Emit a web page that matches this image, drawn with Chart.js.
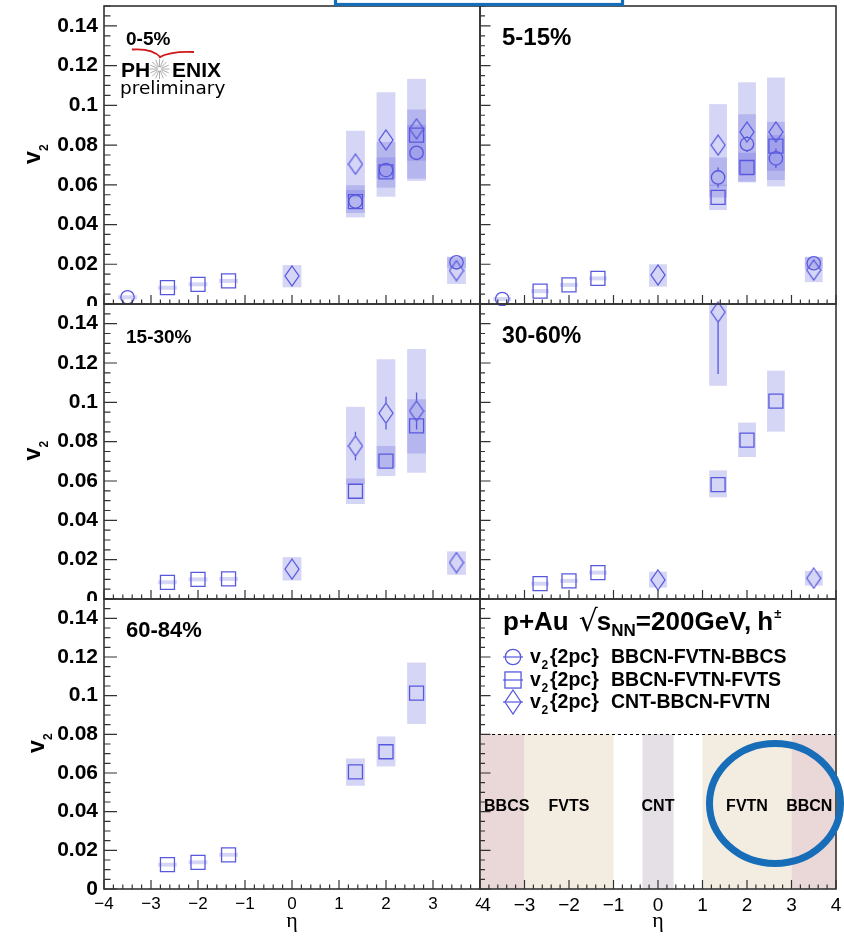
<!DOCTYPE html>
<html><head><meta charset="utf-8">
<script src="https://cdn.jsdelivr.net/npm/chart.js@4.4.1/dist/chart.umd.min.js"></script>
<style>
html,body{margin:0;padding:0;background:#fff;}
body{width:844px;height:936px;position:relative;overflow:hidden;}
canvas{position:absolute;}
</style></head><body>
<canvas id="c0"></canvas><canvas id="c1"></canvas>
<canvas id="c2"></canvas><canvas id="c3"></canvas>
<canvas id="c4"></canvas><canvas id="c5"></canvas>
<canvas id="ov" style="z-index:5;pointer-events:none"></canvas>
<script>
// ---------------- DATA ----------------
const centralityLabels = ['0-5%', '5-15%', '15-30%', '30-60%', '60-84%'];
const seriesNames = ['BBCN-FVTN-BBCS', 'BBCN-FVTN-FVTS', 'CNT-BBCN-FVTN'];

const etaCircle  = [-3.5, 1.35, 2.0, 2.65, 3.5];
const etaSquare  = [-2.65, -2.0, -1.35, 1.35, 2.0, 2.65];
const etaDiamond = [0, 1.35, 2.0, 2.65, 3.5];
const etaDiamond_30_60 = [0, 1.35, 3.5];

// 0-5%
const v2Circle_0_5    = [0.0034, 0.0516, 0.0674, 0.0761, 0.0210];
const statCircle_0_5  = [0.0005, 0.0015, 0.0020, 0.0025, 0.0010];
const sysLoCircle_0_5 = [0.0024, 0.0436, 0.0540, 0.0620, 0.0180];
const sysHiCircle_0_5 = [0.0044, 0.0598, 0.0816, 0.0902, 0.0238];
const v2Square_0_5    = [0.0082, 0.0099, 0.0116, 0.0515, 0.0665, 0.0850];
const statSquare_0_5  = [0.0005, 0.0005, 0.0005, 0.0015, 0.0020, 0.0025];
const sysLoSquare_0_5 = [0.0072, 0.0089, 0.0106, 0.0458, 0.0632, 0.0721];
const sysHiSquare_0_5 = [0.0092, 0.0109, 0.0126, 0.0573, 0.0738, 0.0979];
const v2Diamond_0_5    = [0.0141, 0.0704, 0.0826, 0.0882, 0.0168];
const statDiamond_0_5  = [0.0010, 0.0020, 0.0025, 0.0030, 0.0010];
const sysLoDiamond_0_5 = [0.0084, 0.0536, 0.0586, 0.0631, 0.0101];
const sysHiDiamond_0_5 = [0.0196, 0.0872, 0.1066, 0.1133, 0.0235];

// 5-15%
const v2Circle_5_15    = [0.0025, 0.0637, 0.0805, 0.0733, 0.0205];
const statCircle_5_15  = [0.0005, 0.0050, 0.0040, 0.0050, 0.0010];
const sysLoCircle_5_15 = [0.0015, 0.0536, 0.0655, 0.0624, 0.0178];
const sysHiCircle_5_15 = [0.0035, 0.0738, 0.0955, 0.0850, 0.0238];
const v2Square_5_15    = [0.0065, 0.0096, 0.0129, 0.0537, 0.0687, 0.0795];
const statSquare_5_15  = [0.0005, 0.0005, 0.0005, 0.0015, 0.0020, 0.0025];
const sysLoSquare_5_15 = [0.0055, 0.0086, 0.0119, 0.0473, 0.0612, 0.0670];
const sysHiSquare_5_15 = [0.0075, 0.0106, 0.0139, 0.0601, 0.0761, 0.0917];
const v2Diamond_5_15    = [0.0146, 0.0800, 0.0866, 0.0866, 0.0171];
const statDiamond_5_15  = [0.0010, 0.0020, 0.0030, 0.0030, 0.0010];
const sysLoDiamond_5_15 = [0.0087, 0.0594, 0.0616, 0.0592, 0.0110];
const sysHiDiamond_5_15 = [0.0200, 0.1006, 0.1116, 0.1140, 0.0235];

// 15-30%
const v2Square_15_30    = [0.0085, 0.0100, 0.0102, 0.0548, 0.0701, 0.0880];
const statSquare_15_30  = [0.0005, 0.0005, 0.0005, 0.0020, 0.0020, 0.0030];
const sysLoSquare_15_30 = [0.0075, 0.0090, 0.0092, 0.0483, 0.0625, 0.0740];
const sysHiSquare_15_30 = [0.0095, 0.0110, 0.0112, 0.0613, 0.0778, 0.1016];
const v2Diamond_15_30    = [0.0152, 0.0778, 0.0945, 0.0956, 0.0185];
const statDiamond_15_30  = [0.0010, 0.0072, 0.0083, 0.0094, 0.0010];
const sysLoDiamond_15_30 = [0.0094, 0.0582, 0.0667, 0.0642, 0.0123];
const sysHiDiamond_15_30 = [0.0213, 0.0977, 0.1219, 0.1271, 0.0242];

// 30-60%
const v2Square_30_60    = [0.0078, 0.0092, 0.0134, 0.0582, 0.0808, 0.1006];
const statSquare_30_60  = [0.0005, 0.0005, 0.0005, 0.0020, 0.0025, 0.0030];
const sysLoSquare_30_60 = [0.0068, 0.0082, 0.0124, 0.0517, 0.0722, 0.0851];
const sysHiSquare_30_60 = [0.0088, 0.0102, 0.0144, 0.0654, 0.0897, 0.1161];
const v2Diamond_30_60    = [0.0097, 0.1459, 0.0106];
const statDiamond_30_60  = [0.0010, 0.0315, 0.0010];
const sysLoDiamond_30_60 = [0.0058, 0.1084, 0.0068];
const sysHiDiamond_30_60 = [0.0139, 0.1834, 0.0143];

// 60-84%
const v2Square_60_84    = [0.0126, 0.0138, 0.0177, 0.0606, 0.0710, 0.1013];
const statSquare_60_84  = [0.0005, 0.0005, 0.0005, 0.0020, 0.0025, 0.0030];
const sysLoSquare_60_84 = [0.0116, 0.0128, 0.0167, 0.0534, 0.0634, 0.0854];
const sysHiSquare_60_84 = [0.0136, 0.0148, 0.0187, 0.0675, 0.0789, 0.1171];

// detector acceptance panel
const detectorNames    = ['BBCS', 'FVTS', 'CNT', 'FVTN', 'BBCN'];
const detectorEtaMin   = [-4, -3, -0.35, 1, 3];
const detectorEtaMax   = [-3, -1, 0.35, 3, 4];
const detectorLabelEta = [-3.4, -2, 0, 2, 3.4];
const detectorTop = 0.08;
const detectorLabelV = 0.0425;

const yTickValues = [0, 0.02, 0.04, 0.06, 0.08, 0.1, 0.12, 0.14];
const xTickValues = [-4, -3, -2, -1, 0, 1, 2, 3, 4];

// ---------------- STYLE ----------------
const FONT = "'Liberation Sans', Arial, Helvetica, sans-serif";
const MARKER = 'rgb(88,88,222)';
const BOX = 'rgba(100,100,222,0.27)';
const FRAME = '#333';
const detectorColors = ['#ead7d8', '#f3ede1', '#e5dfe6', '#f3ede1', '#ead7d8'];

function makeDiamond(w, h, lw) {
  const c = document.createElement('canvas');
  c.width = w; c.height = h;
  const g = c.getContext('2d');
  g.strokeStyle = MARKER; g.lineWidth = lw;
  g.beginPath();
  g.moveTo(w / 2, 1); g.lineTo(w - 1, h / 2); g.lineTo(w / 2, h - 1); g.lineTo(1, h / 2); g.closePath();
  g.stroke();
  return c;
}
const diamondImg = makeDiamond(16, 22, 1.3);
const diamondLegImg = makeDiamond(18, 26, 1.3);
const HALF = {circle: 6.7, square: 7, diamond: 10.5};

function S(shape, eta, v2, stat, lo, hi) { return {shape, eta, v2, stat, lo, hi}; }

const panels = [
  {label: centralityLabels[0], font: 19, series: [
    S('circle', etaCircle, v2Circle_0_5, statCircle_0_5, sysLoCircle_0_5, sysHiCircle_0_5),
    S('square', etaSquare, v2Square_0_5, statSquare_0_5, sysLoSquare_0_5, sysHiSquare_0_5),
    S('diamond', etaDiamond, v2Diamond_0_5, statDiamond_0_5, sysLoDiamond_0_5, sysHiDiamond_0_5)]},
  {label: centralityLabels[1], font: 24, series: [
    S('circle', etaCircle, v2Circle_5_15, statCircle_5_15, sysLoCircle_5_15, sysHiCircle_5_15),
    S('square', etaSquare, v2Square_5_15, statSquare_5_15, sysLoSquare_5_15, sysHiSquare_5_15),
    S('diamond', etaDiamond, v2Diamond_5_15, statDiamond_5_15, sysLoDiamond_5_15, sysHiDiamond_5_15)]},
  {label: centralityLabels[2], font: 19, series: [
    S('square', etaSquare, v2Square_15_30, statSquare_15_30, sysLoSquare_15_30, sysHiSquare_15_30),
    S('diamond', etaDiamond, v2Diamond_15_30, statDiamond_15_30, sysLoDiamond_15_30, sysHiDiamond_15_30)]},
  {label: centralityLabels[3], font: 23, series: [
    S('square', etaSquare, v2Square_30_60, statSquare_30_60, sysLoSquare_30_60, sysHiSquare_30_60),
    S('diamond', etaDiamond_30_60, v2Diamond_30_60, statDiamond_30_60, sysLoDiamond_30_60, sysHiDiamond_30_60)]},
  {label: centralityLabels[4], font: 22, series: [
    S('square', etaSquare, v2Square_60_84, statSquare_60_84, sysLoSquare_60_84, sysHiSquare_60_84)]},
  {label: null, legend: true, series: []}
];

// ---------------- GEOMETRY ----------------
const COLS = [
  {left: 0, width: 481, yW: 104, padR: 1, leftCol: true, yMaj: 13, yMin: 6.5, xFont: 17},
  {left: 479, width: 365, yW: 1, padR: 8, leftCol: false, yMaj: 10.5, yMin: 5, xFont: 19}
];
const ROWS = [
  {top: 0, height: 306, xH: 2, bottom: false, vx: 40},
  {top: 298, height: 303, xH: 2, bottom: false, vx: 40},
  {top: 593, height: 343, xH: 47, bottom: true, vx: 44}
];

function fmtV(v) { return String(+v.toFixed(3)); }
function fmtEta(v) { return v < 0 ? '\u2212' + Math.abs(v) : String(v); }

function drawMarker(ctx, shape, x, y, scale) {
  ctx.save();
  ctx.strokeStyle = MARKER; ctx.lineWidth = 1.3;
  if (shape === 'circle') {
    ctx.beginPath(); ctx.arc(x, y, 6.7 * scale, 0, Math.PI * 2); ctx.stroke();
  } else if (shape === 'square') {
    const h = 7 * scale; ctx.strokeRect(x - h, y - h, 2 * h, 2 * h);
  } else {
    const img = scale > 1 ? diamondLegImg : diamondImg;
    ctx.drawImage(img, x - img.width / 2, y - img.height / 2);
  }
  ctx.restore();
}

function drawLegendPanel(chart) {
  const {ctx} = chart;
  const ox = chart.canvas.offsetLeft, oy = chart.canvas.offsetTop;
  const X = x => x - ox, Y = y => y - oy;
  ctx.save();
  ctx.fillStyle = '#000';
  ctx.textBaseline = 'alphabetic';
  ctx.textAlign = 'left';
  // title: p+Au sqrt(s_NN)=200GeV, h±
  const ty = Y(630);
  let x = X(503);
  const put = (txt, font, dy, gapAfter) => {
    ctx.font = font; ctx.fillText(txt, x, ty + dy);
    x += ctx.measureText(txt).width + (gapAfter || 0);
  };
  put('p+Au', `bold 26px ${FONT}`, 0, 10);
  put('\u221A', `30px 'DejaVu Sans', ${FONT}`, 1, -1);
  put('s', `bold 26px ${FONT}`, 0, 0);
  put('NN', `bold 17px ${FONT}`, 6, 0);
  put('=200GeV,', `bold 26px ${FONT}`, 0, 6);
  put('h', `bold 26px ${FONT}`, 0, 1);
  put('\u00B1', `bold 13px ${FONT}`, -12, 0);
  // legend entries
  const shapes = ['circle', 'square', 'diamond'];
  const rowsY = [657, 680, 702];
  for (let i = 0; i < 3; i++) {
    const lx = X(503), ly = Y(rowsY[i]);
    ctx.strokeStyle = MARKER; ctx.lineWidth = 1.2;
    ctx.beginPath(); ctx.moveTo(lx, ly); ctx.lineTo(lx + 20, ly); ctx.stroke();
    drawMarker(ctx, shapes[i], lx + 10, ly, 1.15);
    ctx.fillStyle = '#000';
    ctx.font = `bold 19.5px ${FONT}`;
    ctx.fillText('v', X(530), ly + 6);
    ctx.font = `bold 12px ${FONT}`;
    ctx.fillText('2', X(541.5), ly + 12);
    ctx.font = `bold 19.5px ${FONT}`;
    ctx.fillText('{2pc}', X(550), ly + 6);
    ctx.fillText(seriesNames[i], X(611), ly + 6);
  }
  ctx.restore();
}

function drawBands(chart) {
  const {ctx} = chart;
  const xs = chart.scales.x, ys = chart.scales.y;
  ctx.save();
  for (let i = 0; i < detectorNames.length; i++) {
    const x0 = xs.getPixelForValue(detectorEtaMin[i]);
    const x1 = xs.getPixelForValue(detectorEtaMax[i]);
    const y0 = ys.getPixelForValue(detectorTop);
    const y1 = ys.getPixelForValue(0);
    ctx.fillStyle = detectorColors[i];
    ctx.fillRect(x0, y0, x1 - x0, y1 - y0);
  }
  ctx.strokeStyle = '#000'; ctx.lineWidth = 1; ctx.setLineDash([3, 3]);
  const yd = Math.round(ys.getPixelForValue(detectorTop)) + 0.5;
  ctx.beginPath(); ctx.moveTo(xs.left, yd); ctx.lineTo(xs.right, yd); ctx.stroke();
  ctx.setLineDash([]);
  ctx.fillStyle = '#000';
  ctx.font = `bold 16px ${FONT}`;
  ctx.textAlign = 'center'; ctx.textBaseline = 'middle';
  for (let i = 0; i < detectorNames.length; i++) {
    ctx.fillText(detectorNames[i], xs.getPixelForValue(detectorLabelEta[i]), ys.getPixelForValue(detectorLabelV));
  }
  ctx.restore();
}

function drawLogo(ctx) {
  ctx.save();
  ctx.strokeStyle = '#d01818'; ctx.lineWidth = 1.8;
  ctx.beginPath(); ctx.moveTo(132, 49.5); ctx.quadraticCurveTo(152, 48, 161, 57.5); ctx.stroke();
  ctx.beginPath(); ctx.moveTo(159, 57.5); ctx.quadraticCurveTo(170, 51, 194, 52); ctx.stroke();
  ctx.fillStyle = '#000';
  ctx.font = `bold 21px ${FONT}`;
  ctx.textBaseline = 'alphabetic';
  ctx.fillText('PH', 121, 77);
  ctx.fillText('ENIX', 172, 77);
  ctx.strokeStyle = '#999'; ctx.lineWidth = 0.8;
  for (let k = 0; k < 16; k++) {
    const a = k * Math.PI / 8;
    ctx.beginPath();
    ctx.moveTo(159.5 + 2 * Math.cos(a), 69 + 2 * Math.sin(a));
    ctx.lineTo(159.5 + 10 * Math.cos(a), 69 + 10 * Math.sin(a));
    ctx.stroke();
  }
  ctx.font = `18.5px 'DejaVu Sans', ${FONT}`;
  ctx.fillText('preliminary', 120, 94);
  ctx.restore();
}

function buildPanel(idx) {
  const col = COLS[idx % 2], row = ROWS[Math.floor(idx / 2)];
  const panel = panels[idx];
  const cv = document.getElementById('c' + idx);
  cv.width = col.width; cv.height = row.height;
  cv.style.left = col.left + 'px'; cv.style.top = row.top + 'px';

  const datasets = panel.series.map(s => ({
    data: s.eta.map((x, i) => ({x: x, y: s.v2[i]})),
    pointStyle: s.shape === 'circle' ? 'circle' : (s.shape === 'square' ? 'rect' : diamondImg),
    pointRadius: s.shape === 'circle' ? 6.7 : (s.shape === 'square' ? 9.9 : 10),
    pointBorderColor: MARKER, pointBackgroundColor: 'rgba(0,0,0,0)', pointBorderWidth: 1.3,
    showLine: false, clip: false
  }));

  const rootPlugin = {
    id: 'rootStyle' + idx,
    beforeDatasetsDraw(chart) {
      const {ctx, chartArea: a} = chart;
      const xs = chart.scales.x, ys = chart.scales.y;
      if (panel.legend) { drawBands(chart); return; }
      ctx.save();
      ctx.beginPath(); ctx.rect(a.left, a.top, a.right - a.left, a.bottom - a.top); ctx.clip();
      ctx.fillStyle = BOX;
      panel.series.forEach(s => {
        s.eta.forEach((e, i) => {
          const x0 = xs.getPixelForValue(e - 0.2), x1 = xs.getPixelForValue(e + 0.2);
          const y0 = ys.getPixelForValue(s.hi[i]), y1 = ys.getPixelForValue(s.lo[i]);
          ctx.fillRect(x0, y0, x1 - x0, y1 - y0);
        });
      });
      ctx.strokeStyle = MARKER; ctx.lineWidth = 1.3;
      panel.series.forEach(s => {
        const h = HALF[s.shape];
        s.eta.forEach((e, i) => {
          const x = xs.getPixelForValue(e);
          const yc = ys.getPixelForValue(s.v2[i]);
          const yh = ys.getPixelForValue(s.v2[i] + s.stat[i]);
          const yl = ys.getPixelForValue(s.v2[i] - s.stat[i]);
          ctx.beginPath();
          if (yc - yh > h) { ctx.moveTo(x, yh); ctx.lineTo(x, yc - h); }
          if (yl - yc > h) { ctx.moveTo(x, yc + h); ctx.lineTo(x, yl); }
          ctx.stroke();
        });
      });
      ctx.restore();
    },
    afterDraw(chart) {
      const {ctx, chartArea: a} = chart;
      const xs = chart.scales.x, ys = chart.scales.y;
      ctx.save();
      ctx.strokeStyle = FRAME; ctx.lineWidth = 1.6;
      ctx.strokeRect(a.left, a.top, a.right - a.left, a.bottom - a.top);
      ctx.lineWidth = 1.2;
      ctx.beginPath();
      for (let k = 0; k <= 30; k++) {
        const y = ys.getPixelForValue(k * 0.005);
        const len = (k % 4 === 0) ? col.yMaj : col.yMin;
        ctx.moveTo(a.left, y); ctx.lineTo(a.left + len, y);
      }
      for (let k = 0; k <= 40; k++) {
        const x = xs.getPixelForValue(-4 + k * 0.2);
        const len = (k % 5 === 0) ? 9 : 4.5;
        ctx.moveTo(x, a.bottom); ctx.lineTo(x, a.bottom - len);
      }
      ctx.stroke();
      ctx.fillStyle = '#000';
      if (panel.label) {
        ctx.font = `bold ${panel.font}px ${FONT}`;
        ctx.textAlign = 'left'; ctx.textBaseline = 'alphabetic';
        ctx.fillText(panel.label, a.left + 22, a.top + (idx === 4 ? 38 : 39));
      }
      if (col.leftCol) {
        const cy = (a.top + a.bottom) / 2 + 9;
        ctx.save();
        ctx.translate(row.vx, cy);
        ctx.rotate(-Math.PI / 2);
        ctx.textAlign = 'left'; ctx.textBaseline = 'alphabetic';
        ctx.font = `bold 23px ${FONT}`;
        ctx.fillText('v', 0, 0);
        ctx.font = `bold 12px ${FONT}`;
        ctx.fillText('2', 13, 8);
        ctx.restore();
      }
      if (idx === 0) drawLogo(ctx);
      if (panel.legend) drawLegendPanel(chart);
      ctx.restore();
    }
  };

  return new Chart(cv, {
    type: 'scatter',
    data: {datasets},
    options: {
      responsive: false, animation: false, devicePixelRatio: 1, events: [],
      layout: {autoPadding: false, padding: {top: 6, right: col.padR, left: 0, bottom: 0}},
      plugins: {legend: {display: false}, tooltip: {enabled: false}},
      scales: {
        x: {
          type: 'linear', position: 'bottom', min: -4, max: 4,
          grid: {display: false, drawTicks: false}, border: {display: false},
          afterBuildTicks: s => { s.ticks = xTickValues.map(v => ({value: v})); },
          ticks: {display: row.bottom, autoSkip: false, maxRotation: 0, padding: 5, color: '#000',
                  font: {family: FONT, size: col.xFont}, callback: v => fmtEta(v)},
          title: {display: row.bottom, text: '\u03B7', color: '#000',
                  font: {family: "'Liberation Serif', 'DejaVu Serif', serif", size: 22}, padding: {top: 0, bottom: 2}},
          afterFit: s => { s.height = row.xH; s.paddingLeft = 0; s.paddingRight = 0; }
        },
        y: {
          type: 'linear', position: 'left', min: 0, max: 0.15,
          grid: {display: false, drawTicks: false}, border: {display: false},
          afterBuildTicks: s => { s.ticks = yTickValues.map(v => ({value: v})); },
          ticks: {display: col.leftCol, autoSkip: false, padding: 6, color: '#000',
                  font: {family: FONT, size: 21, weight: 'bold'}, callback: v => fmtV(v)},
          afterFit: s => { s.width = col.yW; s.paddingTop = 0; s.paddingBottom = 0; }
        }
      }
    },
    plugins: [rootPlugin]
  });
}

for (let i = 0; i < 6; i++) buildPanel(i);

// annotation overlay (blue highlight marks)
const ov = document.getElementById('ov');
ov.width = 844; ov.height = 936; ov.style.left = '0px'; ov.style.top = '0px';
const g = ov.getContext('2d');
g.strokeStyle = '#176db7';
g.lineWidth = 3.2;
g.strokeRect(335.5, -10, 287, 14.5);
g.lineWidth = 7;
g.beginPath(); g.ellipse(775, 803.5, 65.5, 60, 0, 0, Math.PI * 2); g.stroke();
</script>
</body></html>
